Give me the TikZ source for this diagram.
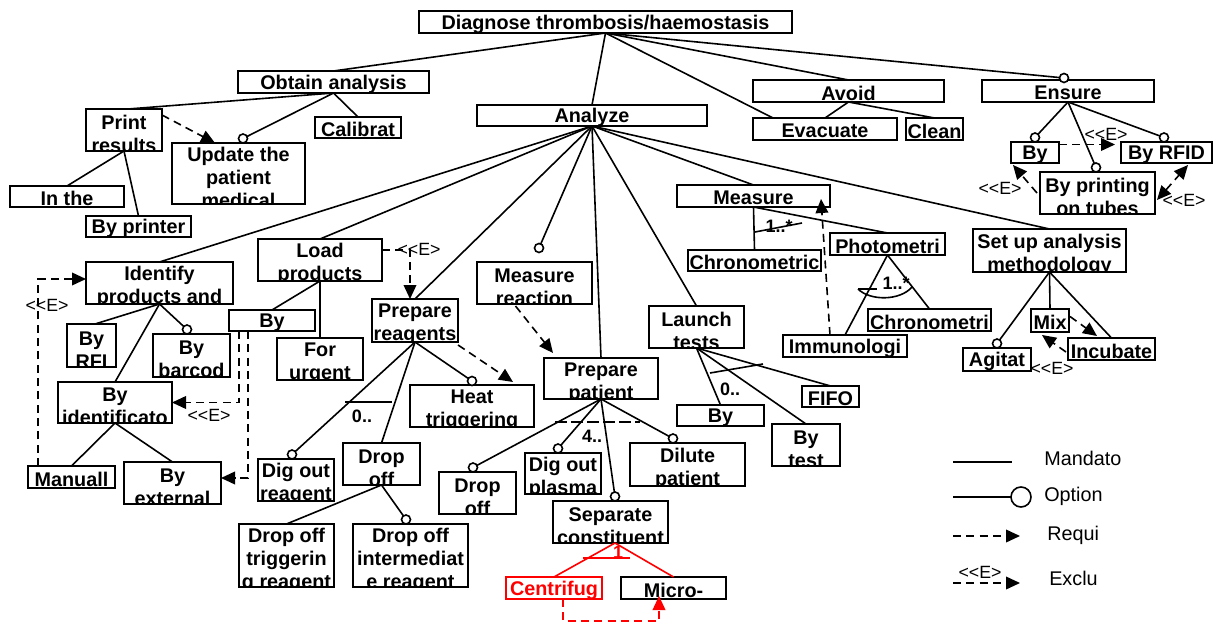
\documentclass[tikz,border=0pt]{standalone}
\usepackage{fontspec}
\setmainfont{Liberation Sans}
\newfontfamily\elfam{Liberation Sans}[Ligatures=TeXOff]
\usetikzlibrary{arrows.meta}
\newcommand\bxfont{\fontsize{14.85pt}{17.25pt}\selectfont\bfseries}
\newcommand\elfont{\elfam\fontsize{13.3pt}{15pt}\selectfont}
\newcommand\cdfont{\fontsize{13.5pt}{15pt}\selectfont\bfseries}
\newcommand\lgfont{\fontsize{14.85pt}{17pt}\selectfont}
\newcommand\EE{<<E>}
\def\tdyval{-1.7pt}
\tikzset{
 tdy/.code={\def\tdyval{#1}},
 ml/.style={tdy=-3.2pt},
 fbx/.style={draw, line width=1.4pt, fill=white, rectangle, inner sep=0pt, outer sep=0pt},
 lbl/.style={path picture={\node[anchor=north,inner sep=0pt,outer sep=0pt,align=center,font=\bxfont,text=black,draw=none,fill=none] at ([yshift=\tdyval]path picture bounding box.north) {#1};}},
 ln/.style={line width=1.2pt},
 optc/.style={circle, draw, line width=1.2pt, fill=white, minimum size=6.75pt, inner sep=0pt, outer sep=0pt},
 dsh/.style={line width=1.2pt, dash pattern=on 6pt off 4pt, -{Triangle[length=10.5pt,width=9.5pt]}},
 elab/.style={font=\elfont, inner sep=0pt},
 card/.style={font=\cdfont, inner sep=0pt},
 lgt/.style={font=\lgfont, anchor=west, inner sep=0pt}
}
\newcommand\fnd[7][]{\node[fbx,#1,minimum width={(#5-#3)*0.75pt},minimum height={(#6-#4)*0.75pt},lbl={#7}] (#2) at ({(#3+#5)/2},{(#4+#6)/2}) {};}
\begin{document}
\begin{tikzpicture}[x=0.75pt,y=-0.75pt]
\useasboundingbox (0,0) rectangle (1217,624);
% ---------- nodes
\fnd{root}{419}{11}{792}{33}{Diagnose thrombosis/haemostasis}
\fnd{obt}{238}{71}{429}{93}{Obtain analysis}
\fnd[ml]{prt}{86}{109}{162}{151}{Print\\results}
\fnd[ml]{upd}{172}{143}{305}{204}{Update the\\patient\\medical}
\fnd{cal}{315}{117}{401}{138}{Calibrat}
\fnd{inth}{10}{186}{124}{207}{In the}
\fnd{byp}{86}{216}{191}{237}{By printer}
\fnd{ana}{477}{105}{707}{126}{Analyze}
\fnd{avo}{753}{80}{944}{102}{Avoid}
\fnd{eva}{753}{118}{897}{140}{Evacuate}
\fnd{cln}{906}{118}{963}{140}{Clean}
\fnd{ens}{982}{80}{1154}{102}{Ensure}
\fnd{bye}{1011}{142}{1059}{163}{By}
\fnd{rfid}{1121}{142}{1212}{163}{By RFID}
\fnd[ml]{bpt}{1040}{172}{1155}{214}{By printing\\on tubes}
\fnd{meas}{677}{185}{830}{207}{Measure}
\fnd{chra}{688}{250}{821}{271}{Chronometric}
\fnd{pho}{830}{233}{945}{255}{Photometri}
\fnd{chrb}{868}{309}{991}{331}{Chronometri}
\fnd{imm}{783}{335}{907}{357}{Immunologi}
\fnd[ml]{setup}{973}{229}{1126}{272}{Set up analysis\\methodology}
\fnd{mix}{1031}{309}{1069}{332}{Mix}
\fnd{inc}{1068}{338}{1155}{360}{Incubate}
\fnd{agi}{963}{348}{1031}{371}{Agitat}
\fnd[ml]{idf}{86}{262}{233}{304}{Identify\\products and}
\fnd[ml]{load}{258}{239}{382}{281}{Load\\products}
\fnd{byl}{229}{310}{315}{331}{By}
\fnd[ml]{urg}{277}{338}{363}{380}{For\\urgent}
\fnd[ml]{rfi}{67}{324}{116}{367}{By\\RFI}
\fnd[ml]{bar}{153}{334}{230}{377}{By\\barcod}
\fnd[ml]{byid}{58}{382}{172}{423}{By\\identificato}
\fnd{man}{28}{466}{115}{488}{Manuall}
\fnd[ml]{bext}{124}{462}{221}{504}{By\\external}
\fnd[ml]{prr}{372}{299}{458}{342}{Prepare\\reagents}
\fnd[ml]{heat}{410}{385}{534}{427}{Heat\\triggering}
\fnd[ml]{mre}{477}{262}{592}{304}{Measure\\reaction}
\fnd[ml]{ppa}{544}{358}{658}{399}{Prepare\\patient}
\fnd[ml]{lau}{649}{306}{744}{348}{Launch\\tests}
\fnd{fifo}{802}{386}{859}{407}{FIFO}
\fnd{byla}{677}{405}{764}{426}{By}
\fnd[ml]{byt}{772}{424}{840}{466}{By\\test}
\fnd[ml]{dor}{258}{459}{334}{501}{Dig out\\reagent}
\fnd[ml]{dof}{343}{443}{420}{485}{Drop\\off}
\fnd[ml]{dot}{239}{524}{334}{587}{Drop off\\triggerin\\g reagent}
\fnd[ml]{doi}{353}{524}{468}{587}{Drop off\\intermediat\\e reagent}
\fnd[ml]{dop}{439}{472}{516}{514}{Drop\\off}
\fnd[ml]{dpl}{525}{453}{601}{494}{Dig out\\plasma}
\fnd[ml]{dil}{630}{443}{745}{486}{Dilute\\patient}
\fnd[ml]{sep}{553}{501}{668}{543}{Separate\\constituent}
\fnd[draw=red]{cen}{506}{577}{602}{599}{\color{red}Centrifug}
\fnd{mic}{621}{577}{726}{599}{Micro-}
% ---------- mandatory / optional edges
\draw[ln] (root.south) -- (obt.north);
\draw[ln] (root.south) -- (ana.north);
\draw[ln] (root.south) -- ([shift={(-52,0)}]eva.north);
\draw[ln] (root.south) -- (avo.north);
\draw[ln] (root.south) -- ([shift={(-4,-2)}]ens.north) node[optc] (oens) {};
\draw[ln] (avo.south) -- (eva.north);
\draw[ln] (avo.south) -- (cln.north);
\draw[ln] (obt.south) -- ([shift={(4,0)}]prt.north);
\draw[ln] (obt.south) -- ([shift={(4.5,-4.5)}]upd.north) node[optc] (oupd) {};
\draw[ln] (obt.south) -- (cal.north);
\draw[ln] (prt.south) -- (inth.north);
\draw[ln] (prt.south) -- (byp.north);
\draw[ln] (ana.south) -- (idf.north);
\draw[ln] (ana.south) -- (load.north);
\draw[ln] (ana.south) -- (prr.north);
\draw[ln] (ana.south) -- ([shift={(4.5,-14)}]mre.north) node[optc] (omre) {};
\draw[ln] (ana.south) -- (ppa.north);
\draw[ln] (ana.south) -- (lau.north);
\draw[ln] (ana.south) -- (meas.north);
\draw[ln] (ana.south) -- (setup.north);
\draw[ln] (ppa.south) -- ([shift={(4.5,-4.5)}]sep.north) node[optc] (osep) {};
\draw[ln] (ppa.south) -- ([shift={(-4.5,-4.5)}]dop.north) node[optc] (odop) {};
\draw[ln] (ppa.south) -- ([shift={(-5,-4.5)}]dpl.north) node[optc] (odpl) {};
\draw[ln] (ppa.south) -- ([shift={(-14.5,-4.5)}]dil.north) node[optc] (odil) {};
\draw[ln] (load.south) -- (byl.north);
\draw[ln] (load.south) -- (urg.north);
\draw[ln] (idf.south) -- ([shift={(3.5,0)}]rfi.north);
\draw[ln] (idf.south) -- (byid.north);
\draw[ln] (idf.south) -- ([shift={(-4.5,-4.5)}]bar.north) node[optc] (obar) {};
\draw[ln] (byid.south) -- (man.north);
\draw[ln] (byid.south) -- (bext.north);
\draw[ln] (prr.south) -- ([shift={(-4,-4.5)}]dor.north) node[optc] (odor) {};
\draw[ln] (prr.south) -- (dof.north);
\draw[ln] (prr.south) -- ([shift={(0,-4)}]heat.north) node[optc] (oheat) {};
\draw[ln] (dof.south) -- (dot.north);
\draw[ln] (dof.south) -- ([shift={(-4.5,-4.5)}]doi.north) node[optc] (odoi) {};
\draw[ln] (lau.south) -- (byla.north);
\draw[ln] (lau.south) -- (byt.north);
\draw[ln] (lau.south) -- (fifo.north);
\draw[ln] (meas.south) -- (chra.north);
\draw[ln] (meas.south) -- (pho.north);
\draw[ln] (pho.south) -- (imm.north);
\draw[ln] (pho.south) -- (chrb.north);
\draw[ln] (setup.south) -- ([shift={(0,-4.5)}]agi.north) node[optc] (oagi) {};
\draw[ln] (setup.south) -- (mix.north);
\draw[ln] (setup.south) -- (inc.north);
\draw[ln] (ens.south) -- ([shift={(0,-4.5)}]bye.north) node[optc] (obye) {};
\draw[ln] (ens.south) -- ([shift={(-1.5,-4.5)}]bpt.north) node[optc] (obpt) {};
\draw[ln] (ens.south) -- ([shift={(-2.5,-4.5)}]rfid.north) node[optc] (orfid) {};
\draw[ln,red] ([shift={(4.5,0)}]sep.south) -- (cen.north);
\draw[ln,red] ([shift={(4.5,0)}]sep.south) -- (mic.north);
% ---------- group cardinalities
\coordinate (ga1) at (345,402); \coordinate (ga2) at (392,402);
\draw[ln] (ga1) -- (ga2);
\node[card] (ca) at (362,416) {0..};
\coordinate (gb1) at (555,422); \coordinate (gb2) at (640,422);
\draw[ln, dash pattern=on 9pt off 3pt] (gb1) -- (gb2);
\node[card] (cb) at (592,436) {4..};
\coordinate (gc1) at (710,373); \coordinate (gc2) at (763,364);
\draw[ln] (gc1) -- (gc2);
\node[card] (cc) at (730,389) {0..};
\node[card] (cd) at (779,226) {1..*};
\coordinate (gd1) at (755,232); \coordinate (gd2) at (802,223);
\draw[ln] (gd1) -- (gd2);
\node[card] (ce) at (896,283) {1..*};
\coordinate (ge1) at (858,289); \coordinate (ge2) at (877,289); \coordinate (ge3) at (912,287);
\draw[ln] (ge1) -- (ge2);
\draw[ln] (ge1) .. controls (870,301) and (900,301) .. (ge3);
\coordinate (gf1) at (583,558); \coordinate (gf2) at (630,558);
\draw[ln,red] (gf1) -- (gf2);
\node[card,text=red] (cf) at (618,552) {1};
% ---------- requires / excludes
\draw[dsh] ([shift={(0,6)}]prt.north east) -- ([shift={(43,0)}]upd.north west);
\draw[dsh] ([shift={(0,-10)}]load.east) -| ([shift={(-5,0)}]prr.north);
\node[elab] (e1) at (419,249) {\EE};
\draw[dsh] ([shift={(0,3)}]prr.south east) -- ([shift={(-21,-3)}]heat.north east);
\draw[dsh] ([shift={(-19,2)}]mre.south) -- ([shift={(9,-5)}]ppa.north west);
\draw[dsh] ([shift={(10,0)}]byl.south west) |- (byid.east);
\node[elab] (e2) at (209,415) {\EE};
\draw[dsh] ([shift={(19,0)}]byl.south west) |- ([shift={(0,-5)}]bext.east);
\draw[dsh] ([shift={(10,0)}]man.north west) |- ([shift={(0,-4)}]idf.west);
\node[elab] (e3) at (47,305) {\EE};
\draw[dsh] ([shift={(47,0)}]imm.north west) -- ([shift={(-9,-8)}]meas.south east);
\draw[dsh] ([shift={(1,-4)}]mix.east) -- ([shift={(29,-2)}]inc.north west);
\draw[dsh] ([shift={(-2,3)}]inc.west) -- ([shift={(-8,3)}]mix.south);
\node[elab] (e4) at (1052,368) {\EE};
\draw[dsh] ([shift={(0,-8)}]bye.east) -- ([shift={(-6,-8)}]rfid.west);
\node[elab] (e5) at (1106,134) {\EE};
\draw[dsh] ([shift={(-3,0)}]bpt.west) -- ([shift={(2,2)}]bye.south west);
\node[elab] (e6) at (1000,188) {\EE};
\draw[dsh, {Triangle[length=10.5pt,width=9.5pt]}-{Triangle[length=10.5pt,width=9.5pt]}] ([shift={(2,7)}]bpt.east) -- ([shift={(21.5,2)}]rfid.south);
\node[elab] (e7) at (1184,200) {\EE};
\draw[dsh, red] ([shift={(9,0)}]cen.south) -- ++(0,22) -| ([shift={(38,-3)}]mic.south west);
% ---------- legend
\coordinate (lg1a) at (953,462); \coordinate (lg1b) at (1012,462);
\draw[ln] (lg1a) -- (lg1b);
\node[lgt] (lgM) at (1044,458) {Mandato};
\coordinate (lg2a) at (953,497); \coordinate (lg2b) at (1011,497);
\draw[ln] (lg2a) -- (lg2b) node[optc, minimum size=15pt, anchor=west] (lgc) {};
\node[lgt] (lgO) at (1044,496) {Option};
\coordinate (lg3a) at (953,536); \coordinate (lg3b) at (1020,536);
\draw[dsh] (lg3a) -- (lg3b);
\node[lgt] (lgR) at (1047,535) {Requi};
\coordinate (lg4a) at (953,583); \coordinate (lg4b) at (1020,583);
\draw[dsh] (lg4a) -- (lg4b);
\node[elab] (lgE) at (980,572) {\EE};
\node[lgt] (lgX) at (1049,578) {Exclu};
\end{tikzpicture}
\end{document}
